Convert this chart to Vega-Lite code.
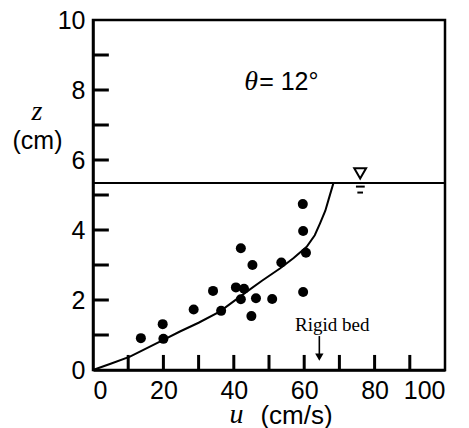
{
  "$schema": "https://vega.github.io/schema/vega-lite/v6.json",
  "width": 352,
  "height": 350,
  "autosize": "none",
  "padding": {"left": 93, "top": 20, "right": 24, "bottom": 58},
  "background": "white",
  "config": {
    "view": {"stroke": "black", "strokeWidth": 2.5},
    "font": "Liberation Sans"
  },
  "layer": [
    {
      "data": {"values": [{"z": 5.34}]},
      "mark": {"type": "rule", "color": "black", "strokeWidth": 2},
      "encoding": {
        "y": {
          "field": "z", "type": "quantitative",
          "scale": {"domain": [0, 10], "nice": false, "zero": false},
          "axis": {
            "values": [0, 2, 4, 6, 8, 10],
            "ticks": false,
            "domainColor": "black", "domainWidth": 2.5,
            "grid": false, "labelFontSize": 25, "labelColor": "black",
            "labelPadding": 8, "labelFont": "Liberation Sans",
            "title": "(cm)", "titleAngle": 0, "titleX": -56, "titleY": 120,
            "titleAlign": "center", "titleBaseline": "middle",
            "titleFontSize": 25, "titleFontWeight": "normal", "titleColor": "black",
            "titleFont": "Liberation Sans"
          }
        }
      }
    },
    {
      "data": {"values": [
        {"u": 0, "z": 0}, {"u": 5, "z": 0.18}, {"u": 10.5, "z": 0.38}, {"u": 20, "z": 0.86},
        {"u": 24.7, "z": 1.1}, {"u": 30, "z": 1.35}, {"u": 36, "z": 1.67}, {"u": 43.7, "z": 2.24},
        {"u": 48, "z": 2.55}, {"u": 53.1, "z": 2.9}, {"u": 57, "z": 3.2}, {"u": 60.7, "z": 3.52},
        {"u": 63, "z": 3.85}, {"u": 64.5, "z": 4.19}, {"u": 66, "z": 4.55}, {"u": 66.9, "z": 4.86},
        {"u": 68.3, "z": 5.34}
      ]},
      "mark": {"type": "line", "color": "black", "strokeWidth": 2},
      "encoding": {
        "x": {
          "field": "u", "type": "quantitative",
          "scale": {"domain": [0, 100], "nice": false, "zero": false},
          "axis": {
            "values": [0, 20, 40, 60, 80, 100],
            "labelOverlap": false,
            "ticks": false,
            "domainColor": "black", "domainWidth": 2.5,
            "grid": false, "labelFontSize": 25, "labelColor": "black",
            "labelPadding": 8, "labelFont": "Liberation Sans",
            "title": "(cm/s)", "titleX": 203, "titleY": 45,
            "titleAlign": "center", "titleBaseline": "middle",
            "titleFontSize": 26, "titleFontWeight": "normal", "titleColor": "black",
            "titleFont": "Liberation Sans"
          }
        },
        "y": {"field": "z", "type": "quantitative"}
      }
    },
    {
      "data": {"values": [
        {"u": 10, "a": 0, "b": 0.43}, {"u": 20, "a": 0, "b": 0.43}, {"u": 30, "a": 0, "b": 0.43},
        {"u": 40, "a": 0, "b": 0.43}, {"u": 50, "a": 0, "b": 0.43}, {"u": 60, "a": 0, "b": 0.43},
        {"u": 70, "a": 0, "b": 0.43}, {"u": 80, "a": 0, "b": 0.43}, {"u": 90, "a": 0, "b": 0.43}
      ]},
      "mark": {"type": "rule", "color": "black", "strokeWidth": 3},
      "encoding": {
        "x": {"field": "u", "type": "quantitative"},
        "y": {"field": "a", "type": "quantitative"},
        "y2": {"field": "b"}
      }
    },
    {
      "data": {"values": [
        {"z": 1, "a": 0, "b": 4.5}, {"z": 2, "a": 0, "b": 4.5}, {"z": 3, "a": 0, "b": 4.5},
        {"z": 4, "a": 0, "b": 4.5}, {"z": 5, "a": 0, "b": 4.5}, {"z": 6, "a": 0, "b": 4.5},
        {"z": 7, "a": 0, "b": 4.5}, {"z": 8, "a": 0, "b": 4.5}, {"z": 9, "a": 0, "b": 4.5}
      ]},
      "mark": {"type": "rule", "color": "black", "strokeWidth": 3},
      "encoding": {
        "x": {"field": "a", "type": "quantitative"},
        "x2": {"field": "b"},
        "y": {"field": "z", "type": "quantitative"}
      }
    },
    {
      "data": {"values": [
        {"z": 5.24, "a": 74.7, "b": 77.2},
        {"z": 5.07, "a": 75.1, "b": 76.7}
      ]},
      "mark": {"type": "rule", "color": "black", "strokeWidth": 2},
      "encoding": {
        "x": {"field": "a", "type": "quantitative"},
        "x2": {"field": "b"},
        "y": {"field": "z", "type": "quantitative"}
      }
    },
    {
      "data": {"values": [
        {"u": 64.3, "a": 0.97, "b": 0.45}
      ]},
      "mark": {"type": "rule", "color": "black", "strokeWidth": 1.6},
      "encoding": {
        "x": {"field": "u", "type": "quantitative"},
        "y": {"field": "a", "type": "quantitative"},
        "y2": {"field": "b"}
      }
    },
    {
      "data": {"values": [
        {"u": 13.6, "z": 0.91}, {"u": 19.8, "z": 1.31}, {"u": 20.0, "z": 0.89},
        {"u": 28.6, "z": 1.73}, {"u": 34.1, "z": 2.26}, {"u": 36.4, "z": 1.69},
        {"u": 40.6, "z": 2.36}, {"u": 42.0, "z": 3.48}, {"u": 42.9, "z": 2.32},
        {"u": 42.0, "z": 2.02}, {"u": 45.3, "z": 3.0}, {"u": 46.3, "z": 2.05},
        {"u": 45.0, "z": 1.54}, {"u": 50.9, "z": 2.03}, {"u": 53.5, "z": 3.07},
        {"u": 59.6, "z": 4.74}, {"u": 59.7, "z": 3.97}, {"u": 60.5, "z": 3.35},
        {"u": 59.7, "z": 2.23}
      ]},
      "mark": {"type": "point", "shape": "circle", "filled": true, "color": "black", "opacity": 1, "size": 100},
      "encoding": {
        "x": {"field": "u", "type": "quantitative"},
        "y": {"field": "z", "type": "quantitative"}
      }
    },
    {
      "data": {"values": [{"u": 75.9, "z": 5.62}]},
      "mark": {"type": "point", "shape": "triangle-down", "filled": false, "color": "black", "strokeWidth": 2, "size": 140, "opacity": 1},
      "encoding": {
        "x": {"field": "u", "type": "quantitative"},
        "y": {"field": "z", "type": "quantitative"}
      }
    },
    {
      "data": {"values": [{"u": 64.3, "z": 0.37}]},
      "mark": {"type": "point", "shape": "triangle-down", "filled": true, "color": "black", "size": 70, "opacity": 1},
      "encoding": {
        "x": {"field": "u", "type": "quantitative"},
        "y": {"field": "z", "type": "quantitative"}
      }
    },
    {
      "data": {"values": [
        {"u": -15.9, "z": 7.37, "label": "z"},
        {"u": 40.8, "z": -1.29, "label": "u"},
        {"u": 44.9, "z": 8.23, "label": "θ"}
      ]},
      "mark": {"type": "text", "font": "Liberation Serif", "fontStyle": "italic", "fontSize": 28, "align": "center", "baseline": "middle", "color": "black"},
      "encoding": {
        "x": {"field": "u", "type": "quantitative"},
        "y": {"field": "z", "type": "quantitative"},
        "text": {"field": "label"}
      }
    },
    {
      "data": {"values": [{"u": 47.2, "z": 8.23, "label": "= 12°"}]},
      "mark": {"type": "text", "font": "Liberation Sans", "fontSize": 25, "align": "left", "baseline": "middle", "color": "black"},
      "encoding": {
        "x": {"field": "u", "type": "quantitative"},
        "y": {"field": "z", "type": "quantitative"},
        "text": {"field": "label"}
      }
    },
    {
      "data": {"values": [{"u": 57.4, "z": 1.29, "label": "Rigid bed"}]},
      "mark": {"type": "text", "font": "Liberation Serif", "fontSize": 19, "align": "left", "baseline": "middle", "color": "black"},
      "encoding": {
        "x": {"field": "u", "type": "quantitative"},
        "y": {"field": "z", "type": "quantitative"},
        "text": {"field": "label"}
      }
    }
  ]
}
